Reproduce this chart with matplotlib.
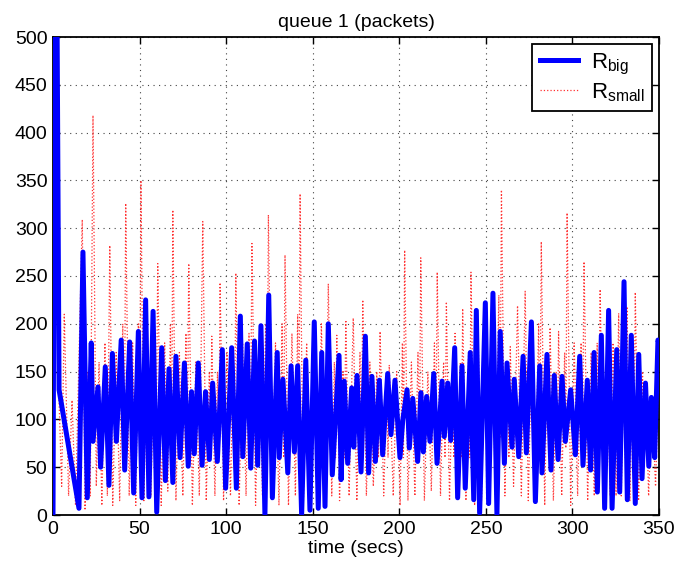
import matplotlib
matplotlib.use("Agg")
import matplotlib.pyplot as plt
from matplotlib.ticker import MultipleLocator

plt.rcParams['font.family'] = ['Liberation Sans', 'DejaVu Sans']
plt.rcParams['mathtext.fontset'] = 'custom'
plt.rcParams['mathtext.rm'] = 'Liberation Sans'

# R_big (blue, thick): (time, packets)
big_points = [
    (0, 0), (1.5, 800), (3.5, 131), (15.0, 7), (17.3, 275), (19.8, 18), (22.1, 180), (23.1, 77),
    (26.0, 134), (27.5, 50), (30.2, 155), (32.3, 31), (34.3, 169), (36.6, 77), (39.4, 183),
    (41.4, 47), (44.3, 181), (46.6, 23), (49.3, 192), (51.4, 18), (53.5, 225), (55.4, 19),
    (57.8, 213), (59.9, 3), (62.8, 175), (64.9, 36), (67.0, 153), (69.2, 34), (71.0, 166),
    (73.4, 60), (75.9, 159), (78.1, 51), (80.0, 129), (81.6, 64), (83.9, 159), (86.1, 52),
    (88.1, 129), (90.3, 58), (92.2, 138), (94.9, 56), (97.8, 173), (99.7, 28), (103.2, 175),
    (105.9, 28), (108.2, 208), (109.6, 61), (112.2, 179), (114.2, 49), (116.4, 182), (118.2, 52),
    (120.1, 198), (122.4, 0), (124.6, 230), (126.7, 18), (129.5, 170), (130.7, 60), (132.8, 142),
    (135.6, 44), (137.5, 156), (139.4, 66), (141.3, 156), (143.6, 0), (146.0, 162), (148.4, 5),
    (150.9, 202), (153.2, 7), (155.2, 170), (157.1, 9), (159.0, 200), (161.3, 42), (165.2, 167),
    (166.4, 37), (168.2, 140), (170.2, 54), (172.5, 133), (173.7, 71), (175.6, 146), (177.9, 45),
    (180.4, 187), (182.3, 44), (184.2, 145), (186.2, 56), (188.5, 141), (190.4, 63), (193.3, 148),
    (195.2, 84), (197.5, 141), (200.4, 60), (202.0, 99), (204.5, 131), (205.8, 70), (207.8, 122),
    (210.6, 56), (212.5, 128), (213.9, 66), (215.8, 124), (217.7, 77), (219.9, 148), (221.8, 54),
    (224.7, 140), (226.0, 82), (228.0, 138), (229.7, 78), (232.0, 175), (233.7, 18), (236.2, 156),
    (238.1, 28), (241.0, 170), (243.0, 16), (244.5, 214), (246.4, 2), (249.7, 222), (251.6, 12),
    (254.1, 232), (256.4, 0), (258.3, 192), (260.7, 54), (262.2, 159), (265.1, 71), (266.4, 142),
    (269.0, 61), (271.5, 166), (273.4, 65), (276.3, 202), (278.6, 14), (281.1, 156), (282.4, 44),
    (285.3, 168), (287.6, 47), (289.5, 146), (291.7, 58), (294.0, 145), (295.9, 77), (299.0, 131),
    (301.7, 63), (304.2, 166), (306.1, 52), (308.6, 141), (310.5, 47), (312.5, 170), (314.4, 24),
    (316.7, 188), (318.6, 7), (320.9, 214), (322.9, 7), (325.6, 173), (327.3, 24), (329.8, 244),
    (331.7, 16), (334.0, 188), (336.3, 12), (338.3, 168), (340.2, 38), (342.2, 138), (344.1, 51),
    (345.6, 123), (347.5, 60), (349.4, 183), (350.0, 180),
]

# R_small (red, dotted): (time, packets)
small_points = [
    (0, 0), (1.2, 800), (3, 150), (5, 30), (6.5, 210), (9, 20), (11, 120), (13, 10), (16.9, 309),
    (18.5, 5), (20.2, 150), (21.5, 20), (23.1, 418), (25, 30), (26.6, 160), (28.2, 10), (30, 180),
    (31.4, 20), (32.8, 282), (34.5, 10), (36.5, 170), (38.5, 15), (40.3, 200), (41.2, 60), (42.0, 326),
    (44, 20), (46, 180), (47.8, 10), (49.3, 200), (50, 80), (50.8, 350), (52.5, 15), (54.5, 190),
    (56.5, 20), (58.5, 170), (59.5, 50), (60.5, 263), (62.5, 10), (64.5, 180), (66.3, 25), (67.8, 200),
    (68.5, 60), (69.2, 319), (71, 15), (73, 170), (75, 20), (76.8, 190), (77.6, 60), (78.4, 263),
    (80.5, 10), (82.5, 160), (84.5, 20), (86.5, 307), (88.5, 15), (90.3, 150), (91, 60), (91.7, 187),
    (93.5, 20), (95, 150), (95.8, 60), (96.5, 243), (98.5, 15), (100.5, 170), (102.5, 20), (104, 160),
    (104.8, 60), (105.6, 253), (107.5, 10), (109.5, 180), (111.5, 20), (113.2, 190), (114, 60),
    (114.9, 284), (117, 10), (119, 170), (121, 20), (122.8, 200), (123.6, 60), (124.4, 314),
    (126.5, 15), (128.5, 180), (130.5, 10), (132.3, 200), (133.2, 60), (134, 272), (136, 10),
    (138, 190), (140, 20), (141.3, 210), (142, 70), (142.7, 336), (144.5, 5), (146.5, 180),
    (148.5, 15), (151, 170), (153, 10), (155, 200), (157.2, 15), (159, 242), (161, 20), (162.5, 160),
    (163.2, 60), (163.9, 188), (165.5, 15), (167.5, 150), (168.3, 60), (169.1, 204), (171, 20),
    (173.4, 206), (175.5, 15), (177.3, 170), (178.1, 60), (178.9, 225), (181, 20), (183, 160),
    (185, 30), (187, 150), (188, 60), (188.9, 192), (191, 20), (192.8, 140), (193.5, 60), (194.2, 157),
    (196.5, 20), (198.5, 150), (200.5, 10), (201.8, 180), (202.4, 60), (203.1, 277), (205, 15),
    (207, 160), (209, 20), (210.8, 170), (211.6, 60), (212.4, 269), (214.5, 15), (216.5, 150),
    (218.5, 25), (220.3, 180), (221.1, 60), (221.9, 254), (223.8, 20), (225.6, 160), (226.4, 60),
    (227.2, 223), (229, 15), (230.8, 150), (231.5, 60), (232.2, 190), (234, 20), (235.3, 160),
    (236, 60), (236.6, 216), (238.5, 15), (240, 170), (240.7, 60), (241.4, 254), (243.5, 10),
    (245.5, 190), (247.5, 15), (249.5, 200), (251.5, 10), (253.5, 210), (255.5, 20), (257.5, 230),
    (258.2, 80), (259, 340), (261, 20), (262.6, 150), (263.3, 60), (264.1, 176), (266, 30),
    (268.3, 219), (270.5, 20), (272.7, 234), (274.5, 15), (276.5, 180), (278.5, 20), (280.5, 200),
    (281.2, 70), (282, 286), (284, 10), (285.5, 170), (286.3, 60), (287.1, 196), (289, 15),
    (290.6, 150), (291.3, 60), (292, 192), (293.8, 20), (295.5, 170), (296.2, 70), (296.9, 316),
    (299, 10), (301, 180), (303, 20), (305, 180), (305.8, 70), (306.7, 265), (308.8, 15), (310.8, 170),
    (312.6, 20), (314.3, 180), (315.1, 70), (316, 236), (318, 15), (320, 170), (321.8, 20), (323.5, 180),
    (325.2, 20), (326.7, 211), (328.2, 20), (329.8, 170), (330.6, 60), (331.5, 218), (333.2, 15),
    (334.8, 170), (335.5, 60), (336.3, 233), (338.2, 15), (340.5, 150), (341.4, 60), (342.3, 139),
    (344, 20), (346, 120), (348, 30), (350, 150),
]

big_t = [p[0] for p in big_points]
big_v = [p[1] for p in big_points]
small_t = [p[0] for p in small_points]
small_v = [p[1] for p in small_points]

fig = plt.figure(figsize=(6.94, 5.70), dpi=100)
ax = fig.add_axes([53/694, 55/570, 606/694, 478/570])

ax.plot(small_t, small_v, linestyle=':', color='#ff3030', linewidth=0.9,
        label=r'R$_{\mathrm{small}}$', zorder=2)
ax.plot(big_t, big_v, linestyle='-', color='#0000ff', linewidth=3.6,
        label=r'R$_{\mathrm{big}}$', zorder=3)

ax.set_xlim(0, 350)
ax.set_ylim(0, 500)
ax.xaxis.set_major_locator(MultipleLocator(50))
ax.yaxis.set_major_locator(MultipleLocator(50))
ax.grid(True, linestyle=(0, (1, 4)), color='#444444', linewidth=0.8)
ax.tick_params(direction='in', length=5, width=1, labelsize=14, pad=4,
               top=True, right=True)
for s in ax.spines.values():
    s.set_linewidth(1.3)
    s.set_color('black')

ax.set_title('queue 1 (packets)', fontsize=14, pad=7)
ax.set_xlabel('time (secs)', fontsize=14, labelpad=2)

handles, labels = ax.get_legend_handles_labels()
leg = ax.legend(handles[::-1], labels[::-1], loc='upper right', fontsize=16,
                fancybox=False, edgecolor='black', framealpha=1,
                borderaxespad=0.3, handlelength=1.7, handletextpad=0.6,
                labelspacing=0.2, borderpad=0.35)
leg.get_frame().set_linewidth(1.3)

fig.savefig('out.png', dpi=100)
